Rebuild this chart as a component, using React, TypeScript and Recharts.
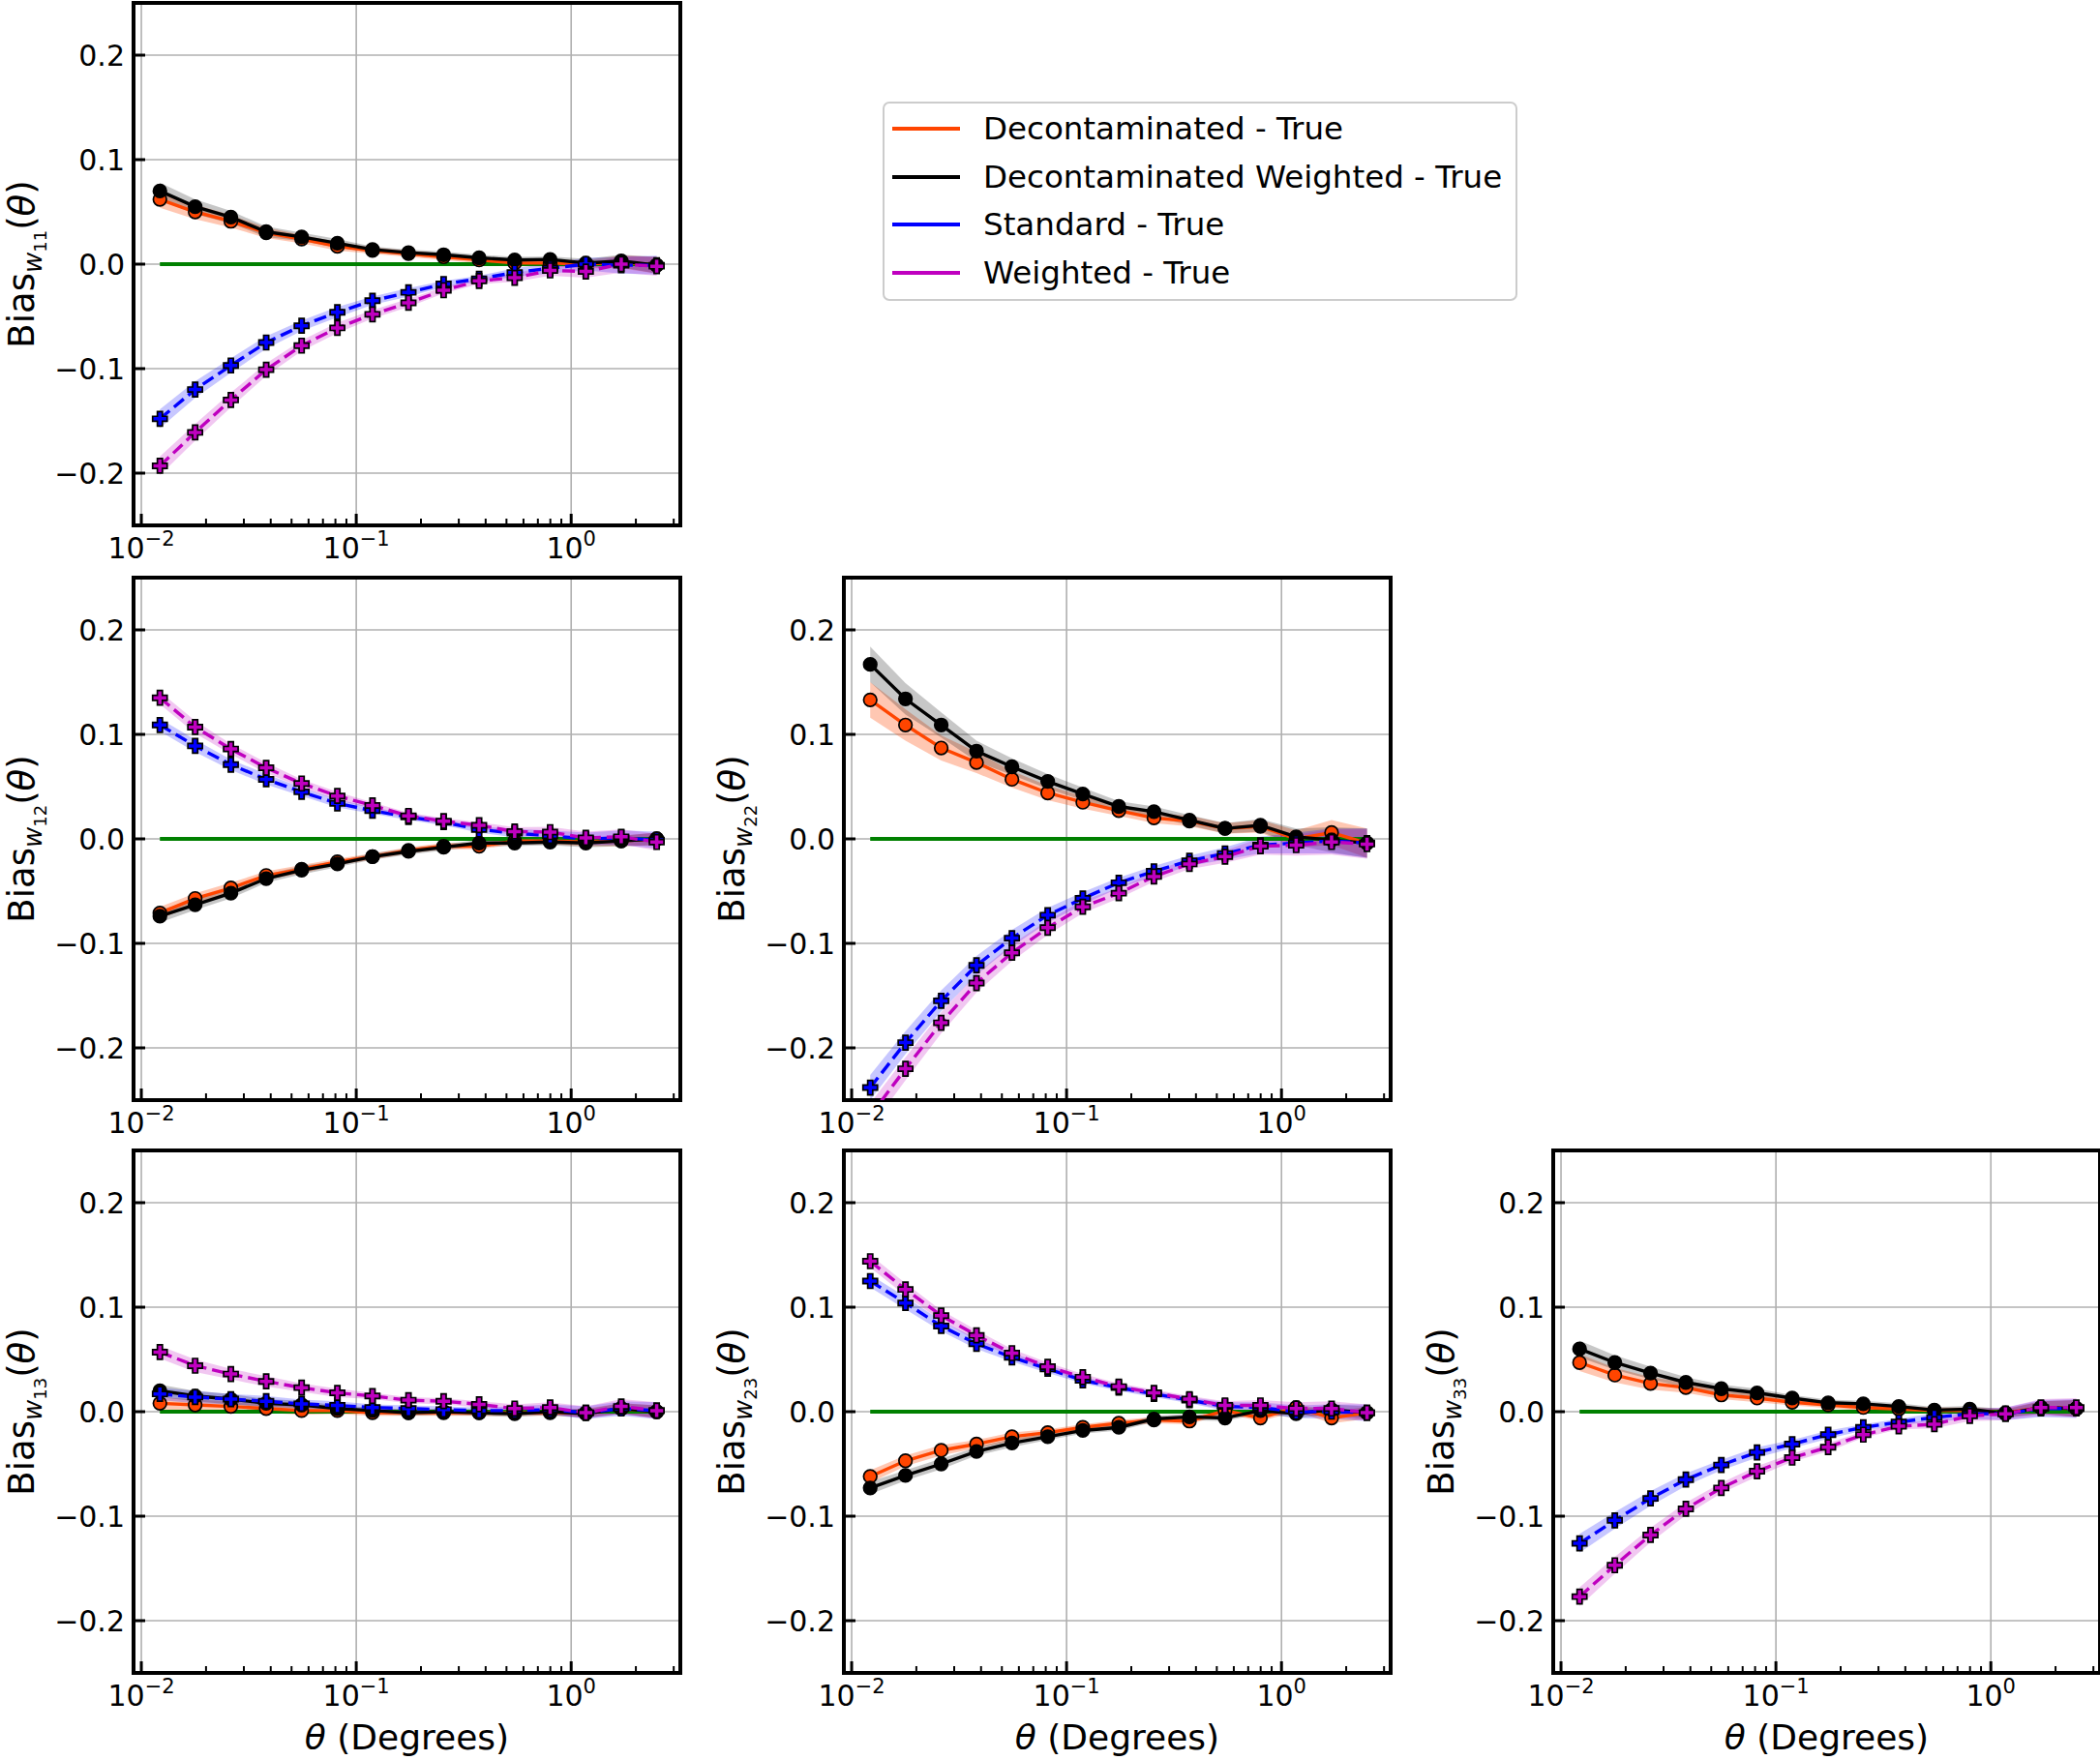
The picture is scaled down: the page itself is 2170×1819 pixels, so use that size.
import React from 'react';
import {
  ComposedChart,
  Line,
  Area,
  XAxis,
  YAxis,
  CartesianGrid,
  ReferenceArea,
} from 'recharts';

const FONT = '"DejaVu Sans", sans-serif';

// angular bins (degrees)
const theta = [0.0122, 0.0178, 0.0261, 0.0381, 0.0557, 0.0817, 0.119, 0.175, 0.255, 0.373, 0.546, 0.798, 1.17, 1.71, 2.5];

const xMajor = [0.01, 0.1, 1];
const xMinor = [0.02, 0.03, 0.04, 0.05, 0.06, 0.07, 0.08, 0.09, 0.2, 0.3, 0.4, 0.5, 0.6, 0.7, 0.8, 0.9, 2, 3];
const xTicks = [...xMajor, ...xMinor].sort((a, b) => a - b);
const xExp: Record<string, string> = { '0.01': '\u22122', '0.1': '\u22121', '1': '0' };
const yTicks = [-0.2, -0.1, 0, 0.1, 0.2];
const X_DOMAIN: [number, number] = [0.0092, 3.22];
const Y_DOMAIN: [number, number] = [-0.25, 0.25];

// w11
const decon11 = [0.062, 0.05, 0.041, 0.03, 0.024, 0.017, 0.013, 0.01, 0.007, 0.004, 0.001, 0.001, 0.0, 0.002, -0.001];
const deconW11 = [0.07, 0.055, 0.045, 0.031, 0.026, 0.02, 0.014, 0.011, 0.009, 0.006, 0.004, 0.0045, 0.001, 0.003, -0.001];
const std11 = [-0.148, -0.12, -0.097, -0.075, -0.059, -0.046, -0.035, -0.027, -0.019, -0.014, -0.008, -0.004, 0.0, -0.001, -0.001];
const wtd11 = [-0.193, -0.161, -0.13, -0.101, -0.078, -0.061, -0.048, -0.037, -0.025, -0.016, -0.013, -0.006, -0.007, 0.0, -0.002];

// w12
const decon12 = [-0.071, -0.057, -0.047, -0.035, -0.029, -0.022, -0.017, -0.011, -0.007, -0.007, -0.002, -0.002, -0.003, -0.002, 0.0];
const deconW12 = [-0.074, -0.063, -0.052, -0.038, -0.03, -0.024, -0.017, -0.012, -0.008, -0.004, -0.004, -0.003, -0.004, -0.002, 0.0];
const std12 = [0.109, 0.089, 0.071, 0.057, 0.045, 0.034, 0.027, 0.021, 0.016, 0.009, 0.0055, 0.003, 0.0, 0.001, -0.001];
const wtd12 = [0.135, 0.107, 0.086, 0.068, 0.053, 0.041, 0.032, 0.022, 0.017, 0.013, 0.007, 0.0065, 0.001, 0.002, -0.003];

// w22
const decon22 = [0.133, 0.109, 0.087, 0.073, 0.057, 0.044, 0.035, 0.027, 0.02, 0.017, 0.01, 0.012, 0.0, 0.006, -0.004];
const deconW22 = [0.167, 0.134, 0.109, 0.084, 0.069, 0.055, 0.043, 0.031, 0.026, 0.018, 0.01, 0.013, 0.002, -0.001, -0.004];
const std22 = [-0.238, -0.195, -0.155, -0.121, -0.095, -0.073, -0.057, -0.042, -0.031, -0.021, -0.014, -0.006, -0.004, -0.002, -0.004];
const wtd22 = [-0.265, -0.22, -0.176, -0.138, -0.109, -0.085, -0.065, -0.052, -0.036, -0.024, -0.017, -0.007, -0.006, -0.003, -0.005];

// w13
const decon13 = [0.008, 0.0065, 0.005, 0.003, 0.001, 0.001, -0.001, -0.001, -0.001, -0.001, -0.001, -0.001, -0.001, 0.003, 0.0];
const deconW13 = [0.02, 0.015, 0.012, 0.008, 0.0065, 0.003, 0.001, -0.001, 0.0, -0.001, -0.002, 0.0, -0.002, 0.003, 0.0];
const std13 = [0.017, 0.014, 0.012, 0.01, 0.0075, 0.006, 0.004, 0.003, 0.002, 0.001, 0.001, 0.002, -0.001, 0.003, 0.001];
const wtd13 = [0.057, 0.044, 0.036, 0.029, 0.023, 0.018, 0.015, 0.011, 0.01, 0.007, 0.003, 0.004, -0.001, 0.005, 0.001];

// w23
const decon23 = [-0.062, -0.047, -0.037, -0.031, -0.024, -0.02, -0.015, -0.011, -0.008, -0.009, 0.001, -0.006, 0.004, -0.006, -0.001];
const deconW23 = [-0.073, -0.061, -0.05, -0.038, -0.03, -0.024, -0.018, -0.015, -0.007, -0.005, -0.006, 0.001, -0.002, 0.002, -0.001];
const std23 = [0.125, 0.104, 0.082, 0.065, 0.052, 0.041, 0.03, 0.023, 0.017, 0.011, 0.005, 0.004, 0.0, 0.0, -0.001];
const wtd23 = [0.144, 0.117, 0.092, 0.073, 0.056, 0.043, 0.033, 0.024, 0.018, 0.012, 0.006, 0.006, 0.003, 0.003, -0.001];

// w33
const decon33 = [0.047, 0.035, 0.027, 0.023, 0.016, 0.013, 0.009, 0.0065, 0.004, 0.0025, 0.001, 0.001, -0.001, 0.004, 0.003];
const deconW33 = [0.06, 0.047, 0.037, 0.028, 0.022, 0.018, 0.013, 0.0085, 0.0075, 0.005, 0.0015, 0.0025, -0.002, 0.004, 0.003];
const std33 = [-0.126, -0.104, -0.083, -0.065, -0.051, -0.039, -0.031, -0.022, -0.015, -0.01, -0.0055, -0.002, -0.002, 0.003, 0.003];
const wtd33 = [-0.177, -0.147, -0.118, -0.093, -0.073, -0.057, -0.044, -0.034, -0.022, -0.014, -0.012, -0.004, -0.002, 0.004, 0.004];

// half-widths of the shaded bands
const errDecSmall = [0.006, 0.005, 0.005, 0.004, 0.004, 0.003, 0.003, 0.003, 0.003, 0.003, 0.003, 0.003, 0.004, 0.005, 0.006];
const errStdSmall = [0.006, 0.006, 0.005, 0.005, 0.004, 0.004, 0.003, 0.003, 0.003, 0.003, 0.004, 0.005, 0.006, 0.007, 0.008];
const errDecMid = [0.008, 0.007, 0.006, 0.005, 0.004, 0.004, 0.003, 0.003, 0.003, 0.003, 0.003, 0.003, 0.004, 0.006, 0.008];
const errStdMid = [0.009, 0.008, 0.007, 0.006, 0.005, 0.005, 0.004, 0.004, 0.003, 0.003, 0.004, 0.005, 0.006, 0.008, 0.009];
const errDecLarge = [0.017, 0.015, 0.012, 0.01, 0.008, 0.007, 0.006, 0.005, 0.005, 0.005, 0.005, 0.006, 0.008, 0.012, 0.014];
const errStdLarge = [0.012, 0.011, 0.01, 0.009, 0.008, 0.007, 0.006, 0.005, 0.005, 0.005, 0.006, 0.008, 0.01, 0.012, 0.014];

const COLORS = {
  decon: '#FF4500',
  deconW: '#000000',
  std: '#0000FF',
  wtd: '#BF00BF',
  zero: '#008000',
};

const LEGEND = [
  { label: 'Decontaminated - True', color: COLORS.decon },
  { label: 'Decontaminated Weighted - True', color: COLORS.deconW },
  { label: 'Standard - True', color: COLORS.std },
  { label: 'Weighted - True', color: COLORS.wtd },
];

const PANELS = [
  { sub: '11', row: 0, col: 0, dec: decon11, decW: deconW11, std: std11, wtd: wtd11, eD: errDecMid, eS: errStdMid },
  { sub: '12', row: 1, col: 0, dec: decon12, decW: deconW12, std: std12, wtd: wtd12, eD: errDecSmall, eS: errStdSmall },
  { sub: '22', row: 1, col: 1, dec: decon22, decW: deconW22, std: std22, wtd: wtd22, eD: errDecLarge, eS: errStdLarge },
  { sub: '13', row: 2, col: 0, dec: decon13, decW: deconW13, std: std13, wtd: wtd13, eD: errDecSmall, eS: errStdSmall },
  { sub: '23', row: 2, col: 1, dec: decon23, decW: deconW23, std: std23, wtd: wtd23, eD: errDecSmall, eS: errStdSmall },
  { sub: '33', row: 2, col: 2, dec: decon33, decW: deconW33, std: std33, wtd: wtd33, eD: errDecMid, eS: errStdMid },
];

// layout
const COL_LEFT = [138, 872, 1605];
const ROW_TOP = [3, 597, 1189];
const PLOT_W = 565;
const PLOT_H = 540;
const Y_AXIS_W = 138;
const M_TOP = 10;
const M_RIGHT = 8;
const X_AXIS_H = 100;

const isMajor = (v: number) => xMajor.includes(v);

const BottomTick = (props: any) => {
  const { x, y, payload } = props;
  const major = isMajor(payload.value);
  return (
    <g>
      <line x1={x} x2={x} y1={y} y2={y - (major ? 12 : 7)} stroke="#000" strokeWidth={major ? 3 : 2} />
      {major && (
        <text x={x} y={y + 34} textAnchor="middle" fontSize={30} fontFamily={FONT} fill="#000">
          10
          <tspan dy={-13} fontSize={21}>
            {xExp[String(payload.value)]}
          </tspan>
        </text>
      )}
    </g>
  );
};

const TopTick = (props: any) => {
  const { x, y, payload } = props;
  const major = isMajor(payload.value);
  return <line x1={x} x2={x} y1={y} y2={y + (major ? 12 : 7)} stroke="#000" strokeWidth={major ? 3 : 2} />;
};

const fmtY = (v: number) => v.toFixed(1).replace('-', '\u2212');

const LeftTick = (props: any) => {
  const { x, y, payload } = props;
  return (
    <g>
      <line x1={x} x2={x + 12} y1={y} y2={y} stroke="#000" strokeWidth={3} />
      <text x={x - 9} y={y} dy="0.36em" textAnchor="end" fontSize={30} fontFamily={FONT} fill="#000">
        {fmtY(payload.value)}
      </text>
    </g>
  );
};

const RightTick = (props: any) => {
  const { x, y } = props;
  return <line x1={x} x2={x - 12} y1={y} y2={y} stroke="#000" strokeWidth={3} />;
};

const circleDot = (fill: string) => (props: any) => {
  const { cx, cy, index } = props;
  if (cx == null || cy == null) return <g key={`c${index}`} />;
  return <circle key={`c${index}`} cx={cx} cy={cy} r={6.8} fill={fill} stroke="#000" strokeWidth={1.7} />;
};

const plusDot = (fill: string) => (props: any) => {
  const { cx, cy, index } = props;
  if (cx == null || cy == null) return <g key={`p${index}`} />;
  const h = 7.5;
  const a = 2.6;
  const d = `M${cx - a},${cy - h}H${cx + a}V${cy - a}H${cx + h}V${cy + a}H${cx + a}V${cy + h}H${cx - a}V${cy + a}H${cx - h}V${cy - a}H${cx - a}Z`;
  return <path key={`p${index}`} d={d} fill={fill} stroke="#000" strokeWidth={1.7} />;
};

function YLabel({ sub }: { sub: string }) {
  const cx = Y_AXIS_W - 116;
  const cy = M_TOP + PLOT_H / 2;
  return (
    <text
      x={cx}
      y={cy}
      transform={`rotate(-90 ${cx} ${cy})`}
      textAnchor="middle"
      dy="0.36em"
      fontSize={37}
      fontFamily={FONT}
      fill="#000"
    >
      Bias
      <tspan fontSize={26} fontStyle="italic" dy={8}>
        w
      </tspan>
      <tspan fontSize={18} dy={5}>
        {sub}
      </tspan>
      <tspan fontSize={37} dy={-13}>
        (
      </tspan>
      <tspan fontStyle="italic">θ</tspan>
      <tspan>)</tspan>
    </text>
  );
}

function XLabel() {
  return (
    <text x={Y_AXIS_W + PLOT_W / 2} y={M_TOP + PLOT_H + 79} textAnchor="middle" fontSize={36} fontFamily={FONT} fill="#000">
      <tspan fontStyle="italic">θ</tspan> (Degrees)
    </text>
  );
}

function Panel({ p }: { p: (typeof PANELS)[number] }) {
  const rows = theta.map((x, i) => ({
    x,
    zero: 0,
    dec: p.dec[i],
    decW: p.decW[i],
    std: p.std[i],
    wtd: p.wtd[i],
    decBand: [p.dec[i] - p.eD[i], p.dec[i] + p.eD[i]],
    decWBand: [p.decW[i] - p.eD[i], p.decW[i] + p.eD[i]],
    stdBand: [p.std[i] - p.eS[i], p.std[i] + p.eS[i]],
    wtdBand: [p.wtd[i] - p.eS[i], p.wtd[i] + p.eS[i]],
  }));
  const showX = p.row === 2;
  const ax = { xAxisId: 'b', yAxisId: 'l' };

  return (
    <div style={{ position: 'absolute', left: COL_LEFT[p.col] - Y_AXIS_W, top: ROW_TOP[p.row] - M_TOP }}>
      <ComposedChart
        width={Y_AXIS_W + PLOT_W + M_RIGHT}
        height={M_TOP + PLOT_H + X_AXIS_H}
        data={rows}
        margin={{ top: M_TOP, right: M_RIGHT, bottom: 0, left: 0 }}
      >
        <CartesianGrid
          {...ax}
          verticalValues={xMajor}
          horizontalValues={yTicks}
          stroke="#b0b0b0"
          strokeWidth={1.6}
        />
        <XAxis
          xAxisId="b"
          dataKey="x"
          type="number"
          scale="log"
          domain={X_DOMAIN}
          allowDataOverflow
          ticks={xTicks}
          interval={0}
          tick={(t: any) => <BottomTick {...t} />}
          tickLine={false}
          axisLine={false}
          tickSize={0}
          tickMargin={0}
          height={X_AXIS_H}
          label={showX ? { content: () => <XLabel /> } : undefined}
        />
        <XAxis
          xAxisId="t"
          orientation="top"
          dataKey="x"
          type="number"
          scale="log"
          domain={X_DOMAIN}
          allowDataOverflow
          ticks={xTicks}
          interval={0}
          tick={(t: any) => <TopTick {...t} />}
          tickLine={false}
          axisLine={false}
          tickSize={0}
          tickMargin={0}
          height={0}
        />
        <YAxis
          yAxisId="l"
          type="number"
          domain={Y_DOMAIN}
          allowDataOverflow
          ticks={yTicks}
          interval={0}
          tick={(t: any) => <LeftTick {...t} />}
          tickLine={false}
          axisLine={false}
          tickSize={0}
          tickMargin={0}
          width={Y_AXIS_W}
          label={{ content: () => <YLabel sub={p.sub} /> }}
        />
        <YAxis
          yAxisId="r"
          orientation="right"
          type="number"
          domain={Y_DOMAIN}
          allowDataOverflow
          ticks={yTicks}
          interval={0}
          tick={(t: any) => <RightTick {...t} />}
          tickLine={false}
          axisLine={false}
          tickSize={0}
          tickMargin={0}
          width={0}
        />

        <Area {...ax} type="linear" dataKey="decBand" stroke="none" fill={COLORS.decon} fillOpacity={0.3} isAnimationActive={false} />
        <Area {...ax} type="linear" dataKey="decWBand" stroke="none" fill={COLORS.deconW} fillOpacity={0.22} isAnimationActive={false} />
        <Area {...ax} type="linear" dataKey="stdBand" stroke="none" fill={COLORS.std} fillOpacity={0.22} isAnimationActive={false} />
        <Area {...ax} type="linear" dataKey="wtdBand" stroke="none" fill={COLORS.wtd} fillOpacity={0.22} isAnimationActive={false} />

        <Line {...ax} type="linear" dataKey="zero" stroke={COLORS.zero} strokeWidth={4} dot={false} activeDot={false} isAnimationActive={false} />
        <Line {...ax} type="linear" dataKey="dec" stroke={COLORS.decon} strokeWidth={3.4} dot={circleDot(COLORS.decon)} activeDot={false} isAnimationActive={false} />
        <Line {...ax} type="linear" dataKey="decW" stroke={COLORS.deconW} strokeWidth={3.4} dot={circleDot(COLORS.deconW)} activeDot={false} isAnimationActive={false} />
        <Line {...ax} type="linear" dataKey="std" stroke={COLORS.std} strokeWidth={3.4} strokeDasharray="13 6" dot={plusDot(COLORS.std)} activeDot={false} isAnimationActive={false} />
        <Line {...ax} type="linear" dataKey="wtd" stroke={COLORS.wtd} strokeWidth={3.4} strokeDasharray="13 6" dot={plusDot(COLORS.wtd)} activeDot={false} isAnimationActive={false} />

        <ReferenceArea
          {...ax}
          x1={X_DOMAIN[0]}
          x2={X_DOMAIN[1]}
          y1={Y_DOMAIN[0]}
          y2={Y_DOMAIN[1]}
          fill="none"
          fillOpacity={0}
          stroke="#000"
          strokeWidth={4}
          ifOverflow="visible"
        />
      </ComposedChart>
    </div>
  );
}

function LegendBox() {
  return (
    <div
      style={{
        position: 'absolute',
        left: 912,
        top: 105,
        width: 656,
        height: 206,
        boxSizing: 'border-box',
        border: '2px solid #cccccc',
        borderRadius: 7,
        background: '#fff',
        fontFamily: FONT,
        fontSize: 32.5,
        color: '#000',
      }}
    >
      {LEGEND.map((item, i) => (
        <div
          key={item.label}
          style={{ position: 'absolute', left: 0, top: 1 + i * 49.7, height: 50, display: 'flex', alignItems: 'center' }}
        >
          <div style={{ marginLeft: 8, width: 70, height: 4, background: item.color }} />
          <span style={{ marginLeft: 24, whiteSpace: 'nowrap' }}>{item.label}</span>
        </div>
      ))}
    </div>
  );
}

export default function App() {
  return (
    <div
      style={{
        position: 'absolute',
        left: 0,
        top: 0,
        width: 2170,
        height: 1819,
        overflow: 'hidden',
        background: '#fff',
      }}
    >
      {PANELS.map((p) => (
        <Panel key={p.sub} p={p} />
      ))}
      <LegendBox />
    </div>
  );
}
